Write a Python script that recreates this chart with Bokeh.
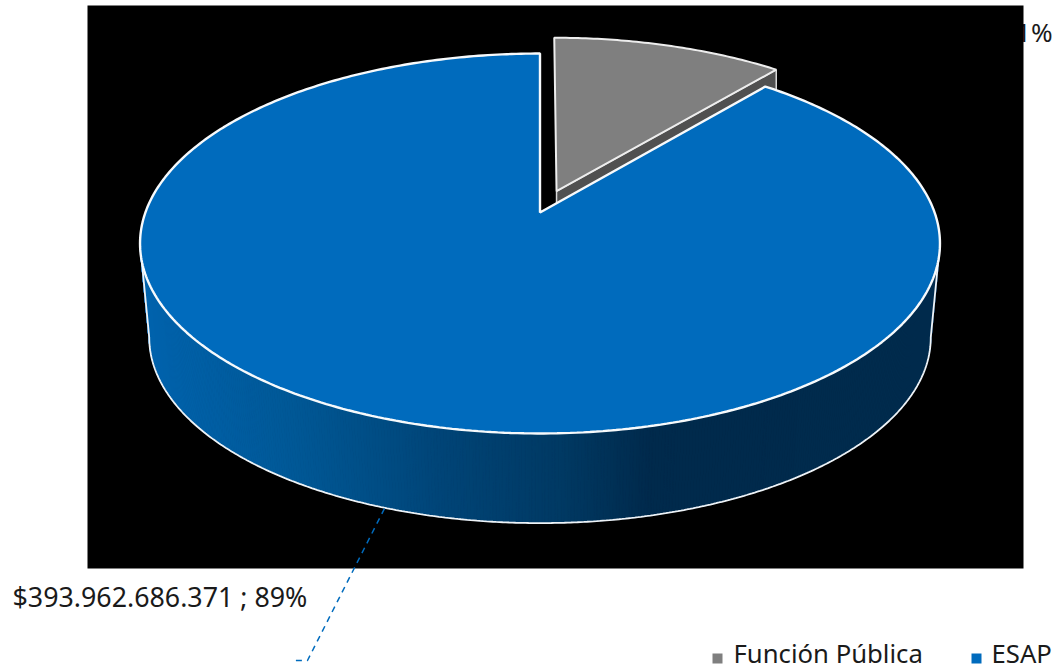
import numpy as np
from bokeh.plotting import figure
from bokeh.embed import file_html
from bokeh.resources import INLINE
from bokeh.core.properties import value
from bokeh.models import Range1d

categories = ["Función Pública", "ESAP"]
amounts = [49200000000, 393962686371]
percent_labels = ["11%", "89%"]
value_labels = ["$49.200.000.000", "$393.962.686.371"]
top_colors = ["#7F7F7F", "#006BBD"]
gray_side = "#505050"
side_stops_x = [145, 300, 450, 560, 650, 935]
side_stops_c = [(0, 100, 175), (0, 88, 150), (0, 68, 118), (0, 58, 100), (0, 42, 76), (0, 44, 78)]

W, H = 1056, 671
p = figure(width=W, height=H, x_range=Range1d(0, W), y_range=Range1d(H, 0),
           output_backend="svg", toolbar_location=None, min_border=0,
           outline_line_color=None, background_fill_color="white")
p.axis.visible = False
p.grid.visible = False

frac = amounts[0] / sum(amounts)
theta0 = 2 * np.pi * frac

def proj(x, y, cx=539.5, k=394.6, a=150.3, b=212.0, c=-0.1632):
    d = c * y + 1
    return cx + k * x / d, (a * y + b) / d

def proj_bottom(x, y):
    xx, yy = proj(x, y)
    f = 0.977
    return 539.5 + (xx - 539.5) * f, 337 + (yy - 243) * f

# hidden label, covered by the black panel as in the reference
p.text([1052], [31], text=[f"{value_labels[0]} ; {percent_labels[0]}"], text_align="right",
       text_baseline="middle", text_font=value("Noto Sans"), text_font_size="26px", text_color="#1a1a1a")
p.quad(left=[87], right=[1023], top=[5], bottom=[568], fill_color="black", line_color=None)

# exploded gray slice
e = 0.125
ex, ey = e * np.sin(theta0 / 2), -e * np.cos(theta0 / 2)
th = np.linspace(0, theta0, 60)
rx, ry = np.sin(th) + ex, -np.cos(th) + ey
gx_top, gy_top = proj(np.r_[ex, rx], np.r_[ey, ry])
ax0, ay0 = proj(ex, ey)
tx, ty = proj(rx[-1], ry[-1])
p.patch([ax0, tx, tx, ax0], [ay0, ty, ty + 90, ay0 + 90], fill_color=gray_side, line_color="#D9D9D9", line_width=1.5)
p.patch(gx_top, gy_top, fill_color=top_colors[0], line_color="#EDEDED", line_width=2)

# blue side wall
th2 = np.linspace(np.pi * 0.552, np.pi * 1.448, 400)
xt, yt = proj(np.sin(th2), -np.cos(th2))
xb, yb = proj_bottom(np.sin(th2), -np.cos(th2))
xs, ys, cs = [], [], []
for i in range(len(th2) - 1):
    xs.append([xt[i], xt[i + 1], xb[i + 1], xb[i]])
    ys.append([yt[i], yt[i + 1], yb[i + 1], yb[i]])
    m = (xb[i] + xb[i + 1]) / 2
    col = [np.interp(m, side_stops_x, [s[j] for s in side_stops_c]) for j in range(3)]
    cs.append("#%02x%02x%02x" % tuple(int(v) for v in col))
p.patches(xs, ys, fill_color=cs, line_color=cs, line_width=1)
p.line(np.r_[xt[0], xb, xt[-1]], np.r_[yt[0], yb, yt[-1]], line_color="#EEF3F7", line_width=1.8)

# blue top
th3 = np.linspace(theta0, 2 * np.pi, 400)
bx, by = proj(np.r_[0, np.sin(th3)], np.r_[0, -np.cos(th3)])
p.patch(bx, by, fill_color=top_colors[1], line_color="#F7FAFC", line_width=2.4)

# leader line
p.line([384, 307, 295], [508, 660, 660], line_color="#006BBD", line_width=1.5, line_dash="6 5")

p.text([12], [596], text=[f"{value_labels[1]} ; {percent_labels[1]}"], text_baseline="middle",
       text_font=value("Noto Sans"), text_font_size="26.8px", text_color="#1a1a1a")

# legend
p.rect([717, 976], [658, 658], width=10, height=10, fill_color=top_colors, line_color=None)
p.text([733, 991], [653, 653], text=categories, text_baseline="middle",
       text_font=value("Noto Sans"), text_font_size="25.7px", text_color="#1a1a1a")

open("out.html", "w").write(file_html(p, INLINE))
